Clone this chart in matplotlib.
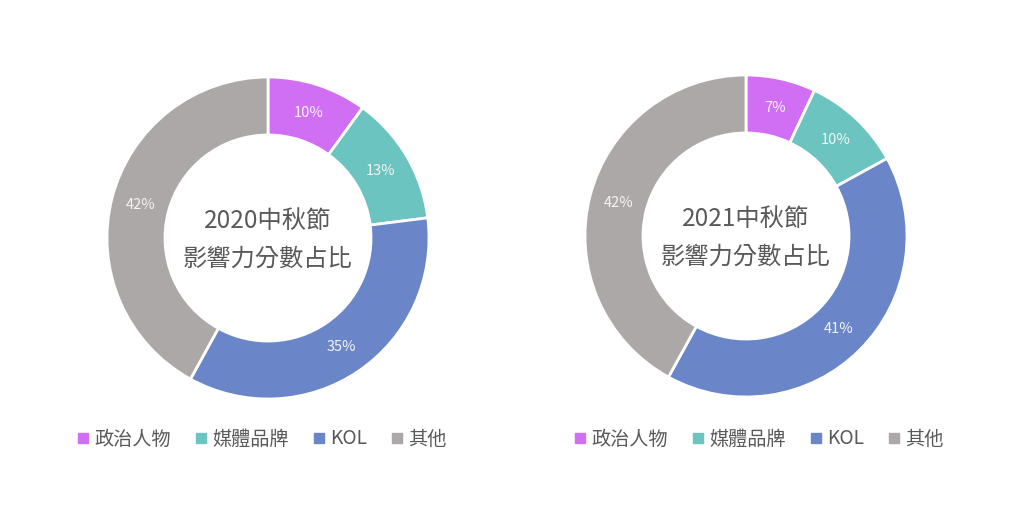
import matplotlib.pyplot as plt
from matplotlib.lines import Line2D

plt.rcParams['font.family'] = ['Noto Sans CJK TC', 'DejaVu Sans']

categories = ['政治人物', '媒體品牌', 'KOL', '其他']
values_2020 = [10, 13, 35, 42]
values_2021 = [7, 10, 41, 42]
titles = ['2020中秋節\n影響力分數占比', '2021中秋節\n影響力分數占比']
colors = ['#D06EF4', '#6BC4BF', '#6A86C8', '#ACA8A7']

W, H = 1024, 522
fig = plt.figure(figsize=(W / 100, H / 100), dpi=100)

centers = [(268, 238), (746, 236)]
legend_x = [260, 757]
R = 161

for (cx, cy), vals, title, lx in zip(centers, [values_2020, values_2021], titles, legend_x):
    ax = fig.add_axes([(cx - R) / W, (H - cy - R) / H, 2 * R / W, 2 * R / H])
    wedges, texts, autotexts = ax.pie(
        vals, colors=colors, startangle=90, counterclock=False,
        radius=1, autopct='%.0f%%', pctdistance=0.815,
        wedgeprops=dict(width=0.36, edgecolor='white', linewidth=2),
        textprops=dict(color='#F4F4F4', fontsize=10.5))
    for w in wedges:
        w.set_clip_on(False)
    ax.set_xlim(-1.0, 1.0)
    ax.set_ylim(-1.0, 1.0)
    ax.set_aspect('equal')
    ax.text(0, -0.01, title, ha='center', va='center', fontsize=17.5,
            color='#595959', linespacing=1.6)

    handles = [Line2D([], [], marker='s', linestyle='', markersize=7,
                      markerfacecolor=c, markeredgecolor=c) for c in colors]
    fig.legend(handles, categories, loc='center', ncol=4, frameon=False,
               bbox_to_anchor=(lx / W, 1 - 439 / H), fontsize=13.8,
               labelcolor='#595959', handletextpad=0.1, columnspacing=1.05,
               handlelength=1.0)

fig.savefig('out.png', dpi=100, facecolor='white')
